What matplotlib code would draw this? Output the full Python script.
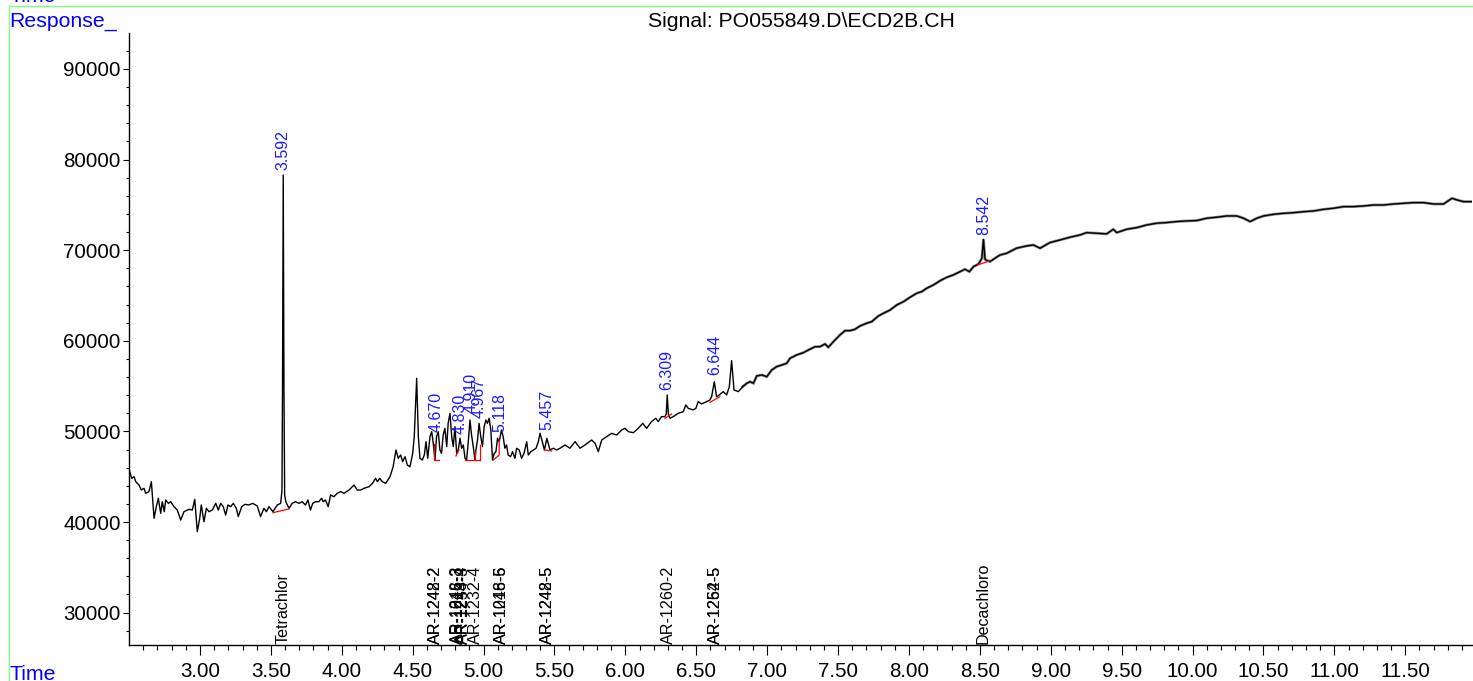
import numpy as np
import matplotlib
matplotlib.use("Agg")
import matplotlib.pyplot as plt
from matplotlib.lines import Line2D
import matplotlib.transforms as mtransforms

plt.rcParams['font.family'] = ['Liberation Sans', 'DejaVu Sans']

# ---------------- data ----------------
trace_time = [
    2.500, 2.518, 2.535, 2.547, 2.570, 2.586, 2.605, 2.617, 2.640, 2.657,
    2.676, 2.692, 2.706, 2.723, 2.734, 2.748, 2.758, 2.777, 2.793, 2.817,
    2.840, 2.864, 2.887, 2.922, 2.946, 2.963, 2.981, 2.998, 3.009, 3.028,
    3.045, 3.063, 3.087, 3.111, 3.129, 3.146, 3.164, 3.181, 3.197, 3.216,
    3.235, 3.256, 3.270, 3.294, 3.317, 3.344, 3.372, 3.404, 3.427, 3.451,
    3.468, 3.487, 3.514, 3.545, 3.569, 3.578, 3.582, 3.587, 3.592, 3.597,
    3.606, 3.616, 3.628, 3.650, 3.673, 3.698, 3.720, 3.744, 3.761, 3.779,
    3.795, 3.814, 3.838, 3.857, 3.869, 3.885, 3.904, 3.921, 3.944, 3.968,
    3.992, 4.015, 4.051, 4.086, 4.109, 4.133, 4.157, 4.192, 4.216, 4.239,
    4.251, 4.267, 4.286, 4.310, 4.340, 4.362, 4.382, 4.398, 4.415, 4.429,
    4.446, 4.462, 4.481, 4.500, 4.511, 4.528, 4.540, 4.551, 4.568, 4.582,
    4.594, 4.606, 4.622, 4.634, 4.645, 4.657, 4.668, 4.680, 4.692, 4.703,
    4.715, 4.727, 4.740, 4.750, 4.763, 4.775, 4.786, 4.798, 4.810, 4.821,
    4.834, 4.845, 4.857, 4.869, 4.880, 4.892, 4.904, 4.915, 4.927, 4.939,
    4.946, 4.957, 4.968, 4.980, 4.992, 5.004, 5.016, 5.027, 5.039, 5.051,
    5.063, 5.075, 5.087, 5.098, 5.110, 5.126, 5.138, 5.150, 5.162, 5.173,
    5.190, 5.204, 5.221, 5.233, 5.251, 5.268, 5.285, 5.304, 5.315, 5.333,
    5.351, 5.370, 5.386, 5.398, 5.414, 5.429, 5.446, 5.468, 5.491, 5.515,
    5.539, 5.574, 5.609, 5.645, 5.680, 5.715, 5.762, 5.786, 5.809, 5.833,
    5.868, 5.903, 5.938, 5.974, 5.997, 6.021, 6.056, 6.091, 6.122, 6.150,
    6.184, 6.215, 6.231, 6.255, 6.278, 6.288, 6.295, 6.303, 6.315, 6.337,
    6.373, 6.408, 6.426, 6.443, 6.478, 6.497, 6.513, 6.537, 6.572, 6.596,
    6.608, 6.627, 6.643, 6.662, 6.690, 6.714, 6.733, 6.749, 6.766, 6.797,
    6.827, 6.856, 6.879, 6.903, 6.926, 6.962, 6.997, 7.032, 7.067, 7.103,
    7.138, 7.161, 7.208, 7.255, 7.291, 7.338, 7.372, 7.408, 7.431, 7.467,
    7.513, 7.549, 7.584, 7.619, 7.655, 7.702, 7.737, 7.784, 7.820, 7.867,
    7.914, 7.961, 8.008, 8.055, 8.090, 8.125, 8.172, 8.220, 8.267, 8.313,
    8.360, 8.395, 8.426, 8.455, 8.490, 8.514, 8.525, 8.536, 8.543, 8.571,
    8.606, 8.642, 8.689, 8.758, 8.830, 8.877, 8.924, 8.994, 9.065, 9.135,
    9.206, 9.252, 9.323, 9.394, 9.441, 9.465, 9.535, 9.606, 9.677, 9.747,
    9.818, 9.888, 9.959, 10.029, 10.100, 10.171, 10.241, 10.312, 10.359, 10.406,
    10.453, 10.500, 10.571, 10.641, 10.712, 10.782, 10.853, 10.923, 10.994, 11.065,
    11.135, 11.206, 11.276, 11.347, 11.417, 11.488, 11.558, 11.629, 11.699, 11.770,
    11.829, 11.864, 11.911, 11.970,
]
trace_response = [
    45800, 44820, 45000, 44450, 44080, 43530, 43720, 43170, 43350, 44450,
    40410, 41690, 42620, 40960, 42240, 41140, 42430, 42060, 42240, 41690,
    41320, 40220, 41140, 41400, 41320, 42500, 38930, 40410, 41880, 40030,
    41510, 41140, 41320, 42060, 41320, 42060, 41690, 40770, 41880, 41690,
    42060, 41510, 40590, 41690, 41950, 41880, 42060, 41770, 40590, 41510,
    41140, 41690, 41140, 41880, 42060, 43500, 55000, 78300, 55000, 43000,
    42200, 41880, 41510, 42060, 42240, 42060, 42240, 41880, 42430, 41320,
    42060, 42240, 42240, 42620, 42240, 42430, 41690, 42980, 42790, 43170,
    43350, 43170, 43530, 44080, 43530, 43530, 43720, 43900, 44270, 44820,
    44450, 44820, 44450, 44270, 45000, 46100, 47950, 47030, 47400, 46660,
    47210, 46290, 46100, 47580, 49420, 55860, 49420, 47030, 46840, 47400,
    48870, 47030, 49420, 49970, 48690, 46840, 49420, 49970, 47950, 47580,
    49600, 50340, 48320, 50890, 52000, 49420, 48320, 50520, 47580, 47950,
    49240, 48140, 48500, 47030, 46840, 48870, 51260, 49600, 48320, 46840,
    47950, 49050, 50890, 49420, 48320, 50520, 51260, 50890, 51450, 50160,
    46840, 47580, 47760, 49240, 48870, 50160, 49420, 48140, 48500, 47400,
    47210, 47760, 47030, 48140, 47950, 47030, 47580, 48870, 47400, 47760,
    47950, 48140, 48870, 49790, 48870, 47950, 49240, 47950, 48140, 47950,
    48140, 48500, 48140, 48870, 48140, 48500, 49050, 48690, 47760, 49050,
    49420, 49790, 49600, 50160, 50340, 49970, 49860, 50340, 50890, 50340,
    51080, 51450, 51080, 51630, 51630, 51900, 54020, 51900, 51450, 51630,
    52000, 52180, 52920, 52550, 52370, 52550, 53280, 53030, 53280, 53470,
    53830, 55490, 53830, 54020, 54390, 54020, 54940, 57810, 54570, 54390,
    54940, 55310, 55490, 55310, 56120, 56230, 56040, 56780, 57150, 57330,
    57520, 58070, 58440, 58690, 58990, 59350, 59350, 59650, 59290, 59910,
    60640, 61120, 61120, 61270, 61640, 61940, 62110, 62740, 63040, 63400,
    63960, 64320, 64810, 65250, 65430, 65800, 66160, 66640, 67010, 67270,
    67630, 67900, 67630, 68190, 68480, 69110, 71210, 69000, 68920, 68740,
    69110, 69470, 69660, 70220, 70470, 70580, 70220, 70840, 71130, 71430,
    71680, 71940, 71870, 71800, 72310, 71940, 72310, 72490, 72790, 72980,
    73050, 73160, 73230, 73270, 73530, 73640, 73780, 73780, 73530, 73160,
    73530, 73780, 73960, 74070, 74140, 74250, 74330, 74510, 74630, 74810,
    74810, 74880, 74990, 74990, 75100, 75180, 75250, 75250, 75100, 75100,
    75730, 75550, 75360, 75360,
]

# integrated peaks (retention time labels)
peak_labels = ['3.592', '4.670', '4.830', '4.910', '4.967', '5.118', '5.457',
               '6.309', '6.644', '8.542']
peak_label_time = [3.587, 4.666, 4.831, 4.912, 4.966, 5.118, 5.444,
                   6.292, 6.632, 8.525]
peak_label_response = [78900, 49950, 49700, 52000, 51500, 49970, 50150,
                       54600, 56200, 71700]

# integration baselines (red)
baseline_segments = [
    [(3.515, 41030), (3.628, 41440)],
    [(4.652, 48610), (4.652, 46840), (4.686, 46840)],
    [(4.805, 47290), (4.826, 47950)],
    [(4.869, 46840), (4.975, 46840)],
    [(4.939, 46840), (4.939, 47760)],
    [(4.975, 46840), (4.975, 48500)],
    [(5.068, 46840), (5.110, 47400), (5.110, 49050)],
    [(5.428, 47950), (5.480, 47840)],
    [(6.279, 51450), (6.326, 51920)],
    [(6.596, 53210), (6.667, 53830)],
    [(8.483, 68370), (8.567, 68810)],
]

# compound names along the bottom
compound_names = ['Tetrachlor',
                  'AR-1248-2', 'AR-1242-2',
                  'AR-1248-3', 'AR-1016-3',
                  'AR-1248-4', 'AR-1254-3',
                  'AR-1232-4',
                  'AR-1248-6', 'AR-1016-5',
                  'AR-1248-5', 'AR-1242-5',
                  'AR-1260-2',
                  'AR-1262-5', 'AR-1254-5',
                  'Decachloro']
compound_time = [3.585,
                 4.660, 4.660,
                 4.818, 4.826,
                 4.850, 4.858,
                 4.945,
                 5.123, 5.123,
                 5.447, 5.447,
                 6.307,
                 6.632, 6.632,
                 8.522]

x_major = [3.00, 3.50, 4.00, 4.50, 5.00, 5.50, 6.00, 6.50, 7.00, 7.50, 8.00,
           8.50, 9.00, 9.50, 10.00, 10.50, 11.00, 11.50]
y_major = [30000, 40000, 50000, 60000, 70000, 80000, 90000]

# ---------------- figure ----------------
W, H = 1473, 681
fig = plt.figure(figsize=(W / 100, H / 100), dpi=100)
ax = fig.add_axes([129 / W, 36 / H, (1472 - 129) / W, (645 - 33) / H])

t = np.array(trace_time)
r = np.array(trace_response)
late = t >= 6.8
ax.plot(t[late], r[late], color='#8a8a8a', lw=2.0, solid_joinstyle='miter', zorder=2)
ax.plot(t, r, color='black', lw=1.0, zorder=3)

for seg in baseline_segments:
    xs = [p[0] for p in seg]
    ys = [p[1] for p in seg]
    ax.plot(xs, ys, color='red', lw=0.9, zorder=4)

for lab, x, y in zip(peak_labels, peak_label_time, peak_label_response):
    ax.text(x, y, lab, rotation=90, ha='center', va='bottom', color='#1a1aff',
            fontsize=11.5, zorder=5)

trans = mtransforms.blended_transform_factory(ax.transData, ax.transAxes)
for name, x in zip(compound_names, compound_time):
    ax.text(x, 0.002, name, rotation=90, ha='center', va='bottom', color='black',
            fontsize=11.6, transform=trans, zorder=5)

ax.set_xlim(2.4993, 11.9704)
ax.set_ylim(26424, 93973)

ax.set_xticks(x_major)
ax.set_xticklabels(['%.2f' % v for v in x_major])
ax.set_xticks(np.round(np.arange(2.6, 11.95, 0.1), 2), minor=True)
ax.set_yticks(y_major)
ax.set_yticklabels([str(v) for v in y_major])
ax.set_yticks(np.arange(28000, 94000, 2000), minor=True)

ax.tick_params(axis='x', which='major', direction='out', length=7, width=0.8,
               labelsize=14.8, pad=5)
ax.tick_params(axis='x', which='minor', direction='out', length=3.6, width=0.8)
ax.tick_params(axis='y', which='major', direction='out', length=4, width=0.8,
               labelsize=14.8, pad=2)
ax.tick_params(axis='y', which='minor', direction='out', length=2.2, width=0.8)

for s in ['top', 'right']:
    ax.spines[s].set_visible(False)
for s in ['left', 'bottom']:
    ax.spines[s].set_linewidth(1.0)

# page elements
fig.text(9 / W, 1 - 27 / H, 'Response_', color='blue', fontsize=15.3, va='baseline', ha='left')
fig.text(9 / W, 1 - 2 / H, 'Time', color='blue', fontsize=15.3, va='baseline', ha='left')
fig.text(9 / W, 1 / H, 'Time', color='blue', fontsize=15.3, va='baseline', ha='left')
fig.text(801 / W, 1 - 27 / H, 'Signal: PO055849.D\\ECD2B.CH', color='black',
         fontsize=15.3, va='baseline', ha='center')

green = '#7fff7f'
fig.add_artist(Line2D([8.5 / W, 8.5 / W], [0, 1 - 5.5 / H], color=green, lw=1.0,
                      transform=fig.transFigure))
fig.add_artist(Line2D([8.5 / W, 1], [1 - 5.5 / H, 1 - 5.5 / H], color=green, lw=1.0,
                      transform=fig.transFigure))

fig.savefig('out.png', dpi=100)
